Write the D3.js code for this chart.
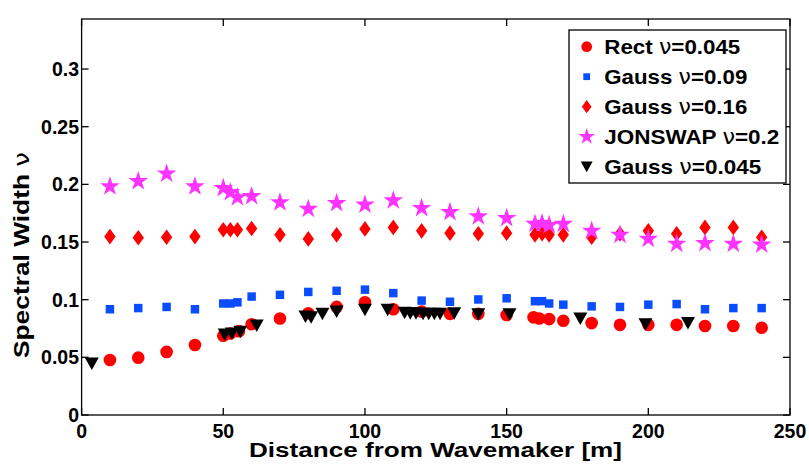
<!DOCTYPE html>
<html>
<head>
<meta charset="utf-8">
<script src="https://cdn.jsdelivr.net/npm/d3@7"></script>
<style>
  body { margin: 0; background: #fff; }
  svg { display: block; }
  text { font-family: "Liberation Sans", Arial, sans-serif; font-weight: bold; fill: #000; }
</style>
</head>
<body>
<div id="chart"></div>
<script>
"use strict";

// ---- data ----
var xMain = [10, 20, 30, 40, 50, 52.5, 55, 60, 70, 80, 90, 100, 110, 120, 130, 140, 150,
             160, 162.5, 165, 170, 180, 190, 200, 210, 220, 230, 240];

var rectX = [10, 20, 30, 40, 50, 52.5, 55.5, 60, 70, 80, 90, 100, 110, 120, 130, 140, 150,
             159.5, 161.5, 165, 170, 180, 190, 200, 210, 220, 230, 240];
var rectY = [0.0477, 0.0497, 0.0547, 0.0607, 0.0687, 0.0707, 0.0727, 0.0787, 0.0837, 0.0882,
             0.0937, 0.0977, 0.0917, 0.0897, 0.0877, 0.0877, 0.0867, 0.0847, 0.0837, 0.0832,
             0.0817, 0.0797, 0.0782, 0.0782, 0.0782, 0.0772, 0.0772, 0.0757];

var gauss09Y = [0.0917, 0.0927, 0.0937, 0.0917, 0.0967, 0.0967, 0.0977, 0.1027, 0.1042, 0.1067,
                0.1077, 0.1087, 0.1057, 0.0992, 0.0982, 0.1002, 0.1012, 0.0987, 0.0987, 0.0967,
                0.0957, 0.0942, 0.0937, 0.0957, 0.0962, 0.0917, 0.0927, 0.0927];

var gauss16Y = [0.1547, 0.1537, 0.1542, 0.1547, 0.1607, 0.1607, 0.1607, 0.1617, 0.1562, 0.1527,
                0.1562, 0.1614, 0.1627, 0.1597, 0.1577, 0.1572, 0.1577, 0.1562, 0.1572, 0.1562,
                0.1562, 0.1542, 0.1572, 0.1597, 0.1572, 0.1627, 0.1627, 0.1542];

var jonswapY = [0.1982, 0.2027, 0.2092, 0.1982, 0.1967, 0.1932, 0.1887, 0.1897, 0.1843, 0.1787,
                0.1837, 0.1823, 0.1860, 0.1794, 0.1759, 0.1721, 0.1707, 0.1657, 0.1663, 0.1647,
                0.1657, 0.1597, 0.1562, 0.1527, 0.1484, 0.1490, 0.1484, 0.1477];

var gauss045X = [3.6, 50.5, 53, 56, 61.8, 79, 81, 85, 90, 100, 108, 114, 116, 118, 120.5, 122.5,
                 124.5, 126.5, 131.5, 140, 151, 176, 199, 214];
var gauss045Y = [0.0447, 0.0697, 0.0707, 0.0722, 0.0777, 0.0855, 0.0847, 0.0877, 0.0897, 0.0912,
                 0.0912, 0.0887, 0.0882, 0.0882, 0.0877, 0.0877, 0.0877, 0.0877, 0.0882, 0.0874,
                 0.0874, 0.0837, 0.0787, 0.0797];

var xTicks = [0, 50, 100, 150, 200, 250];
var yTicks = [0, 0.05, 0.1, 0.15, 0.2, 0.25, 0.3];

var legendNames = ["Rect", "Gauss", "Gauss", "JONSWAP", "Gauss"];
var legendNus = ["0.045", "0.09", "0.16", "0.2", "0.045"];

// ---- layout ----
var width = 809, height = 465;
var plotLeft = 81.6, plotRight = 790, plotTop = 19, plotBottom = 415;

var x = d3.scaleLinear().domain([0, 250]).range([plotLeft, plotRight]);
var y = d3.scaleLinear().domain([0, 0.3434]).range([plotBottom, plotTop]);

var svg = d3.select("#chart").append("svg")
  .attr("width", width)
  .attr("height", height);

// marker shapes
function starPath(r){
  var p = d3.path(), ri = r * 0.382;
  for(var i = 0; i < 10; i++){
    var a = -Math.PI / 2 + i * Math.PI / 5;
    var rr = (i % 2 == 0) ? r : ri;
    if(i == 0) p.moveTo(rr * Math.cos(a), rr * Math.sin(a));
    else p.lineTo(rr * Math.cos(a), rr * Math.sin(a));
  }
  p.closePath();
  return p.toString();
}
var shapes = {
  circle: function(s){ return d3.symbol(d3.symbolCircle, Math.PI * 40 * s * s)(); },
  square: function(s){ return d3.symbol(d3.symbolSquare, 72 * s * s)(); },
  diamond: function(s){ return "M0," + (-7.8*s) + "L" + (5.7*s) + ",0L0," + (7.8*s) + "L" + (-5.7*s) + ",0Z"; },
  star: function(s){ return starPath(10.3 * s); },
  tri: function(s){ return "M" + (-7*s) + "," + (-6*s) + "L" + (7*s) + "," + (-6*s) + "L0," + (6.5*s) + "Z"; }
};

var series = [
  {xs: rectX, ys: rectY, shape: "circle", color: "#ff0000"},
  {xs: xMain, ys: gauss09Y, shape: "square", color: "#0a4cff"},
  {xs: xMain, ys: gauss16Y, shape: "diamond", color: "#ff0000"},
  {xs: xMain, ys: jonswapY, shape: "star", color: "#ff33ff"},
  {xs: gauss045X, ys: gauss045Y, shape: "tri", color: "#000000"}
];

// points
series.forEach(function(s){
  var pts = s.xs.map(function(d, i){ return [d, s.ys[i]]; });
  svg.append("g").selectAll("path")
    .data(pts)
    .enter().append("path")
    .attr("d", shapes[s.shape](1))
    .attr("transform", function(d){ return "translate(" + x(d[0]) + "," + y(d[1]) + ")"; })
    .attr("fill", s.color);
});

// axes box with inner ticks
var tickLen = 7;
var axisG = svg.append("g").attr("stroke", "#000").attr("stroke-width", 1.3).attr("fill", "none");
axisG.append("rect")
  .attr("x", plotLeft).attr("y", plotTop)
  .attr("width", plotRight - plotLeft).attr("height", plotBottom - plotTop);
yTicks.forEach(function(t){
  axisG.append("line").attr("x1", plotLeft).attr("x2", plotLeft + tickLen).attr("y1", y(t)).attr("y2", y(t));
  axisG.append("line").attr("x1", plotRight).attr("x2", plotRight - tickLen).attr("y1", y(t)).attr("y2", y(t));
});
xTicks.forEach(function(t){
  axisG.append("line").attr("x1", x(t)).attr("x2", x(t)).attr("y1", plotBottom).attr("y2", plotBottom - tickLen);
  axisG.append("line").attr("x1", x(t)).attr("x2", x(t)).attr("y1", plotTop).attr("y2", plotTop + tickLen);
});

// tick labels
svg.append("g").selectAll("text")
  .data(yTicks)
  .enter().append("text")
  .attr("x", 79)
  .attr("y", function(d){ return y(d) + 7; })
  .attr("text-anchor", "end")
  .style("font-size", "19.5px")
  .text(function(d){ return d == 0 ? "0" : String(d); });

svg.append("g").selectAll("text")
  .data(xTicks)
  .enter().append("text")
  .attr("x", function(d){ return x(d); })
  .attr("y", 438)
  .attr("text-anchor", "middle")
  .style("font-size", "19.5px")
  .text(function(d){ return d; });

// axis titles
svg.append("text")
  .attr("x", 435.5)
  .attr("y", 457)
  .attr("text-anchor", "middle")
  .attr("textLength", 373)
  .attr("lengthAdjust", "spacingAndGlyphs")
  .style("font-size", "20px")
  .text("Distance from Wavemaker [m]");

var yTitle = svg.append("text")
  .attr("transform", "translate(28.5,255) rotate(-90)")
  .attr("text-anchor", "middle")
  .attr("textLength", 206)
  .attr("lengthAdjust", "spacingAndGlyphs")
  .style("font-size", "22px");
yTitle.append("tspan").text("Spectral Width ");
yTitle.append("tspan").style("font-weight", "normal").style("font-family", "'DejaVu Sans', sans-serif").text("ν");

// legend
var legendLens = [136, 143, 143, 175, 157];
var lg = svg.append("g").attr("transform", "translate(569,30)");
lg.append("rect")
  .attr("width", 217).attr("height", 153)
  .attr("fill", "#fff").attr("stroke", "#000").attr("stroke-width", 1.3);
var rows = lg.selectAll("g.row")
  .data(series)
  .enter().append("g")
  .attr("class", "row")
  .attr("transform", function(d, i){ return "translate(0," + (16.7 + i * 30) + ")"; });
rows.append("path")
  .attr("d", function(d){ return shapes[d.shape](d.shape == "square" ? 0.8 : 0.85); })
  .attr("transform", "translate(17.7,0)")
  .attr("fill", function(d){ return d.color; });
var lt = rows.append("text")
  .attr("x", 35.3)
  .attr("y", 7.6)
  .attr("textLength", function(d, i){ return legendLens[i]; })
  .attr("lengthAdjust", "spacingAndGlyphs")
  .style("font-size", "21px");
lt.append("tspan").text(function(d, i){ return legendNames[i] + " "; });
lt.append("tspan").style("font-weight", "normal").style("font-family", "'DejaVu Sans', sans-serif").text("ν");
lt.append("tspan").text(function(d, i){ return "=" + legendNus[i]; });
</script>
</body>
</html>
